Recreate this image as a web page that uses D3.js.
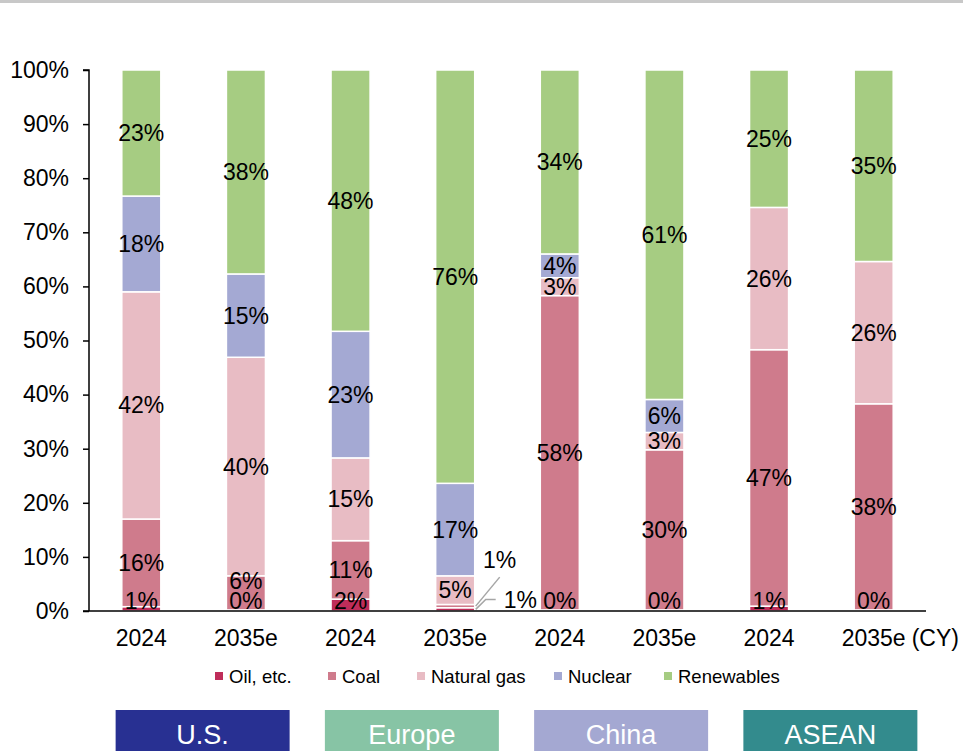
<!DOCTYPE html>
<html>
<head>
<meta charset="utf-8">
<script src="https://cdn.jsdelivr.net/npm/d3@7"></script>
<style>
  html, body { margin: 0; padding: 0; background: #fff; }
  svg { display: block; font-family: "Liberation Sans", Arial, sans-serif; }
</style>
</head>
<body>
<svg id="chart" width="963" height="751"></svg>
<script>
// ---- data ----
const categories = ["2024", "2035e", "2024", "2035e", "2024", "2035e", "2024", "2035e"];
const regions = ["U.S.", "Europe", "China", "ASEAN"];
const seriesNames = ["Oil, etc.", "Coal", "Natural gas", "Nuclear", "Renewables"];
const oil        = [0.8, 0.2, 2.2, 0.6, 0.2, 0.2, 0.9, 0.2];
const coal       = [16.2, 6.3, 10.8, 0.6, 58.1, 29.6, 47.4, 38.1];
const naturalGas = [42.0, 40.4, 15.3, 5.3, 3.3, 3.2, 26.3, 26.3];
const nuclear    = [17.7, 15.4, 23.4, 17.1, 4.4, 6.1, 0, 0];
const renewables = [23.3, 37.7, 48.3, 76.4, 34.0, 60.9, 25.4, 35.4];
const yTicks = [0, 10, 20, 30, 40, 50, 60, 70, 80, 90, 100];
const lastNote = "(CY)";

const seriesValues = [oil, coal, naturalGas, nuclear, renewables];
const colors = ["#bf2d5a", "#cf7b8c", "#e8bcc4", "#a4a9d3", "#a6cc82"];
const regionColors = ["#283092", "#87c4a5", "#a4a8d2", "#338b8d"];

const svg = d3.select("#chart");
const FONT = 23;

// top gray rule
svg.append("rect").attr("x", 0).attr("y", 0).attr("width", 963).attr("height", 3).attr("fill", "#c8c8c8");

const x = d3.scaleBand().domain(d3.range(categories.length)).range([89, 926])
  .paddingInner(0.627).paddingOuter(0.3135);
const y = d3.scaleLinear().domain([0, 100]).range([611, 70]);

// build stacked table
const rows = categories.map((c, i) => {
  const r = { idx: i };
  seriesNames.forEach((s, k) => r[s] = seriesValues[k][i]);
  return r;
});
const stack = d3.stack().keys(seriesNames)(rows);

// bars
const g = svg.append("g");
stack.forEach((layer, k) => {
  g.selectAll(null).data(layer.filter(d => d[1] - d[0] > 0)).enter().append("rect")
    .attr("x", d => x(d.data.idx))
    .attr("width", x.bandwidth())
    .attr("y", d => y(d[1]))
    .attr("height", d => y(d[0]) - y(d[1]))
    .attr("fill", colors[k])
    .attr("stroke", "#fff")
    .attr("stroke-width", 1.5);
});

// axes
const yAxis = d3.axisLeft(y).tickValues(yTicks).tickFormat(d => d + "%").tickSize(6).tickPadding(14);
const ya = svg.append("g").attr("transform", "translate(89,0)").call(yAxis);
ya.select(".domain").attr("stroke", "#000").attr("stroke-width", 1.5).attr("d", "M-6,70H0V611");
ya.selectAll(".tick line").attr("stroke", "#000").attr("stroke-width", 1.5);
ya.selectAll(".tick text").attr("font-size", FONT).attr("fill", "#000")
  .attr("font-family", "Liberation Sans, Arial, sans-serif");

const xAxis = d3.axisBottom(x).tickFormat(i => categories[i]).tickSize(0).tickPadding(19);
const xa = svg.append("g").attr("transform", "translate(0,611)").call(xAxis);
xa.select(".domain").attr("stroke", "#000").attr("stroke-width", 1.5).attr("d", "M83,0H926");
xa.selectAll(".tick text").attr("font-size", FONT).attr("fill", "#000")
  .attr("font-family", "Liberation Sans, Arial, sans-serif");

// "(CY)" note after the last category label
const lastCx = x(categories.length - 1) + x.bandwidth() / 2;
const lastTxt = xa.selectAll(".tick text").filter((d, i) => i === categories.length - 1).node();
const lastW = lastTxt.getComputedTextLength();
svg.append("text").attr("x", lastCx + lastW / 2 + 6).attr("y", 611 + 19).attr("dy", "0.71em")
  .attr("font-size", FONT).attr("fill", "#000").text(lastNote);

// data labels
const halfH = 10;
const lab = svg.append("g").attr("font-size", FONT).attr("fill", "#000").attr("text-anchor", "middle");
categories.forEach((c, i) => {
  const cx = x(i) + x.bandwidth() / 2;
  const xr = x(i) + x.bandwidth();
  let prevTop = 611; // plot bottom
  const segs = stack.map((layer, k) => ({ k, d0: layer[i][0], d1: layer[i][1], v: seriesValues[k][i] }));
  // callout mode: two adjacent tiny segments at the bottom
  const callout = segs[0].v > 0.4 && segs[0].v < 1.5 && segs[1].v < 1.5;
  segs.forEach(s => {
    if (s.v <= 0) return;
    const txt = Math.round(s.v) + "%";
    const segC = (y(s.d0) + y(s.d1)) / 2;
    if (callout && s.k <= 1) {
      if (s.k === 0) {
        svg.append("path").attr("d", `M${xr + 1},${segC} L${xr + 11},${segC - 10} L${xr + 21},${segC - 10}`)
          .attr("fill", "none").attr("stroke", "#a6a6a6").attr("stroke-width", 1.5);
        lab.append("text").attr("x", xr + 29).attr("y", segC - 9).attr("dy", "0.35em")
          .attr("text-anchor", "start").text(txt);
      } else {
        svg.append("path").attr("d", `M${xr + 1},${segC} L${xr + 25},${segC - 29}`)
          .attr("fill", "none").attr("stroke", "#a6a6a6").attr("stroke-width", 1.5);
        lab.append("text").attr("x", xr + 25).attr("y", segC - 46).attr("dy", "0.35em").text(txt);
      }
      return;
    }
    let cy = Math.min(segC, prevTop - halfH);
    prevTop = cy - halfH;
    lab.append("text").attr("x", cx).attr("y", cy).attr("dy", "0.35em").text(txt);
  });
});

// legend
const legendX = [215, 328, 417, 554, 664];
const leg = svg.append("g").attr("font-size", 18.5).attr("fill", "#000");
seriesNames.forEach((s, k) => {
  leg.append("rect").attr("x", legendX[k]).attr("y", 672).attr("width", 8).attr("height", 8).attr("fill", colors[k]);
  leg.append("text").attr("x", legendX[k] + 14).attr("y", 683).text(s);
});

// region boxes
regions.forEach((r, j) => {
  const c0 = x(2 * j) + x.bandwidth() / 2, c1 = x(2 * j + 1) + x.bandwidth() / 2;
  const cc = (c0 + c1) / 2 + 9;
  svg.append("rect").attr("x", cc - 87).attr("y", 710).attr("width", 174).attr("height", 41)
    .attr("fill", regionColors[j]);
  svg.append("text").attr("x", cc).attr("y", 744).attr("text-anchor", "middle")
    .attr("font-size", 27).attr("fill", "#fff").text(r);
});
</script>
</body>
</html>
